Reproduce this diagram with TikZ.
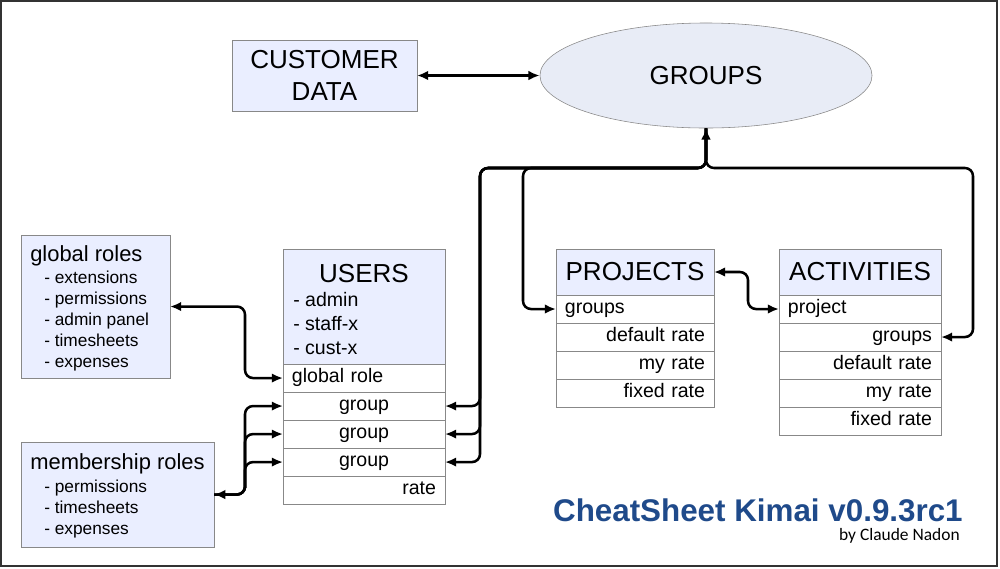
\documentclass[tikz,border=0pt]{standalone}
\usepackage{fontspec}
\setmainfont{Liberation Sans}
\newfontfamily\bylinefont{Carlito}
\usetikzlibrary{arrows.meta,positioning,shapes.geometric}

\definecolor{boxblue}{HTML}{EAEEFF}
\definecolor{ovalblue}{HTML}{E8ECF6}
\definecolor{linegray}{HTML}{888888}
\definecolor{titleblue}{HTML}{1F4A8A}

\newcommand\hdrfont{\fontsize{18.5}{22.8}\selectfont}
\newcommand\rowfont{\fontsize{13.9}{17}\selectfont}
\newcommand\roletitlefont{\fontsize{15.6}{18}\selectfont}
\newcommand\roleitemfont{\fontsize{12.3}{14.9}\selectfont}

\tikzset{
  box/.style={draw=linegray, fill=boxblue, inner sep=0pt, outer sep=0pt},
  cell/.style={draw=linegray, fill=white, outer sep=0pt, inner ysep=0pt, inner xsep=0.225cm,
    minimum height=0.7cm, text height=1.6ex, text depth=0.45ex, font=\rowfont},
  ucell/.style={cell, text width=3.6cm},
  pcell/.style={cell, text width=3.5cm},
  txt/.style={inner sep=0pt, anchor=base west},
  link/.style={line width=1.8pt, rounded corners=0.2cm, ->},
}

\begin{document}
\begin{tikzpicture}[x=0.025cm, y=-0.025cm, >={Latex[length=2.8mm,width=2.4mm]}]
  \useasboundingbox (0,0) rectangle (1000,568);
  \draw[line width=1.4pt, draw=black!80] (1,1) rectangle (997,566);

  % top
  \node[box, align=center, minimum width=4.625cm, minimum height=1.775cm, font=\fontsize{18.5}{22.8}\selectfont]
    (cust) at (324.5,75.5) {CUSTOMER\\DATA};
  \node[ellipse, draw=linegray, fill=ovalblue, inner sep=0pt, minimum width=8.3cm, minimum height=2.625cm, font=\hdrfont]
    (groups) at (706,75.5) {GROUPS};

  % roles (lists anchored on their last line)
  \node[box, minimum width=3.725cm, minimum height=3.575cm, anchor=north west] (gr) at (21,235) {};
  \node[txt, font=\roletitlefont] (grtitle) at (30,261) {global roles};
  \node[txt, align=left, font=\roleitemfont] (grlist) at (44,367)
    {- extensions\\- permissions\\- admin panel\\- timesheets\\- expenses};
  \node[box, minimum width=4.825cm, minimum height=2.625cm, anchor=north west] (mr) at (21,442) {};
  \node[txt, font=\roletitlefont] (mrtitle) at (30,469) {membership roles};
  \node[txt, align=left, font=\roleitemfont] (mrlist) at (44,534)
    {- permissions\\- timesheets\\- expenses};

  % users
  \node[box, minimum width=4.05cm, minimum height=2.875cm, anchor=north] (users) at (364,249) {};
  \node[inner sep=0pt, anchor=base, font=\hdrfont] (utitle) at (364,282) {USERS};
  \node[txt, align=left, font=\fontsize{13.9}{17}\selectfont] (ulist) at (293,354) {- admin\\- staff-x\\- cust-x};
  \node[ucell, align=left, below=0pt of users] (ugr) {global role};
  \node[ucell, align=center, below=0pt of ugr] (u1) {group};
  \node[ucell, align=center, below=0pt of u1] (u2) {group};
  \node[ucell, align=center, below=0pt of u2] (u3) {group};
  \node[ucell, align=right, below=0pt of u3] (urate) {rate};

  % projects
  \node[box, minimum width=3.95cm, minimum height=1.15cm, anchor=north, font=\hdrfont] (proj) at (635,249) {PROJECTS};
  \node[pcell, align=left, below=0pt of proj] (p1) {groups};
  \node[pcell, align=right, below=0pt of p1] (p2) {default rate};
  \node[pcell, align=right, below=0pt of p2] (p3) {my rate};
  \node[pcell, align=right, below=0pt of p3] (p4) {fixed rate};

  % activities
  \node[box, minimum width=4.05cm, minimum height=1.15cm, anchor=north, font=\hdrfont] (act) at (860,249) {ACTIVITIES};
  \node[ucell, align=left, below=0pt of act] (a1) {project};
  \node[ucell, align=right, below=0pt of a1] (a2) {groups};
  \node[ucell, align=right, below=0pt of a2] (a3) {default rate};
  \node[ucell, align=right, below=0pt of a3] (a4) {my rate};
  \node[ucell, align=right, below=0pt of a4] (a5) {fixed rate};

  % bends
  \coordinate (grbend) at (245,340);
  \coordinate (mrbend) at (245,480);
  \coordinate (pabend) at (748,290);
  \coordinate (busU) at (480,168);
  \coordinate (busP) at (523,168);
  \coordinate (busA) at (973,168);

  \draw[link, <->] (cust.east) -- (groups.west);
  \draw[link, <->] (gr.east) -| (grbend) |- (ugr.west);
  \draw[link, <->] (mr.east) -| (mrbend) |- (u1.west);
  \draw[link] (mr.east) -| (mrbend) |- (u2.west);
  \draw[link] (mr.east) -| (mrbend) |- (u3.west);
  \draw[link, <->] (proj.east) -| (pabend) |- (a1.west);

  \draw[link, <->] (u1.east) -| (busU) -| (groups.south);
  \draw[link, <-] (u2.east) -| (busU) -| (groups.south);
  \draw[link, <-] (u3.east) -| (busU) -| (groups.south);
  \draw[link, <-] (p1.west) -| (busP) -| (groups.south);
  \draw[link, <-] (a2.east) -| (busA) -| (groups.south);

  % title
  \node[inner sep=0pt, anchor=base east, text=titleblue, font=\fontsize{22.3}{26}\selectfont\bfseries]
    (title) at (963,521) {CheatSheet Kimai v0.9.3rc1};
  \node[inner sep=0pt, anchor=base east, font=\bylinefont\fontsize{12.4}{14}\selectfont]
    (byline) at (960,540) {by Claude Nadon};
\end{tikzpicture}
\end{document}
